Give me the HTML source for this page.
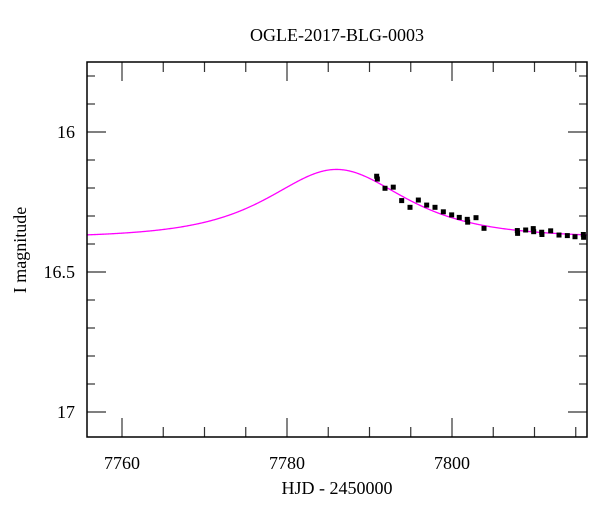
<!DOCTYPE html>
<html><head><meta charset="utf-8"><style>
body{margin:0;background:#fff}
svg text{font-family:"Liberation Serif",serif;fill:#000}
</style></head><body>
<svg id="chart" width="600" height="512" xmlns="http://www.w3.org/2000/svg">
<rect width="600" height="512" fill="#fff"/>
<text x="337" y="41" font-size="18" text-anchor="middle">OGLE-2017-BLG-0003</text>
<text x="337" y="494" font-size="18" text-anchor="middle">HJD - 2450000</text>
<text transform="translate(26,250) rotate(-90)" font-size="18" text-anchor="middle">I magnitude</text>
<g id="axes"></g>
<g id="marks"></g>
<rect x="87" y="62" width="500" height="375" fill="none" stroke="#000" stroke-width="1.5"/>
</svg>
<script>
const days=[7790.87,7790.95,7791.88,7792.88,7793.90,7794.91,7795.92,7796.93,7797.94,7798.95,7799.96,7800.88,7801.85,7801.9,7802.91,7803.88,7807.92,7807.95,7808.93,7809.85,7809.9,7810.87,7810.9,7811.96,7812.97,7813.98,7814.91,7815.92,7815.95];
const mags=[16.158,16.168,16.201,16.197,16.245,16.269,16.243,16.261,16.269,16.285,16.296,16.305,16.312,16.322,16.306,16.344,16.352,16.362,16.350,16.345,16.356,16.358,16.366,16.353,16.368,16.370,16.374,16.366,16.376];
const errs=[0.008,0.008,0.006,0.006,0.006,0.008,0.006,0.006,0.006,0.006,0.006,0.006,0.008,0.008,0.008,0.006,0.008,0.008,0.006,0.008,0.008,0.008,0.008,0.006,0.006,0.006,0.006,0.008,0.008];
const xTicks=[7760,7780,7800];
const yTicks=[16,16.5,17];
const model={t0:7786,u0:1.15,tE:9.1,base:16.378};
const X0=7760,XPX=122,XS=8.25,Y0=16,YPX=132,YS=280;
const L=87,R=587,T=62,B=437;
const sx=d=>XPX+(d-X0)*XS, sy=m=>YPX+(m-Y0)*YS;
const NS="http://www.w3.org/2000/svg";
function mk(tag,attrs,parent){const e=document.createElementNS(NS,tag);for(const k in attrs)e.setAttribute(k,attrs[k]);parent.appendChild(e);return e;}
const ax=document.getElementById('axes'),mg=document.getElementById('marks');
// x ticks
const dmin=X0+(L-XPX)/XS,dmax=X0+(R-XPX)/XS;
for(let d=Math.ceil(dmin/5)*5;d<=dmax;d+=5){
 const x=sx(d),major=d%20===0,len=major?19:10;
 const t1=mk('line',{x1:x,x2:x,y1:B,y2:B-len,stroke:'#333','stroke-width':1.2},ax);
 
 
 const t2=mk('line',{x1:x,x2:x,y1:T,y2:T+len,stroke:'#333','stroke-width':1.2},ax);
 
 
}
xTicks.forEach(d=>{const t=mk('text',{x:sx(d),y:469,'font-size':18,'text-anchor':'middle'},ax);t.textContent=d;
 
 });
// y ticks
for(let i=Math.ceil((Y0+(T-YPX)/YS)*10);i<=(Y0+(B-YPX)/YS)*10;i++){
 const m=i/10,y=sy(m),major=i%5===0,len=major?19:8;
 const t1=mk('line',{x1:L,x2:L+len,y1:y,y2:y,stroke:'#333','stroke-width':1.2},ax);
 
 
 const t2=mk('line',{x1:R,x2:R-len,y1:y,y2:y,stroke:'#333','stroke-width':1.2},ax);
 
 
}
yTicks.forEach(m=>{const t=mk('text',{x:75,y:sy(m)+6,'font-size':18,'text-anchor':'end'},ax);t.textContent=m;
 
 });
// model curve
let pts=[];
for(let d=dmin;d<=dmax;d+=0.1){
 const tau=(d-model.t0)/model.tE,u=Math.sqrt(model.u0*model.u0+tau*tau);
 const A=(u*u+2)/(u*Math.sqrt(u*u+4));
 pts.push(sx(d).toFixed(2)+','+sy(model.base-2.5*Math.log10(A)).toFixed(2));
}
const curve=mk('polyline',{points:pts.join(' '),fill:'none',stroke:'#ff00ff','stroke-width':1.3},mg);


// data
days.forEach((d,i)=>{
 const x=sx(d),y=sy(mags[i]);
 const e=mk('line',{x1:x,x2:x,y1:sy(mags[i]-errs[i]),y2:sy(mags[i]+errs[i]),stroke:'#000','stroke-width':1.2},mg);
 
 
 const p=mk('rect',{x:x-2.5,y:y-2.5,width:5,height:5,fill:'#000'},mg);
 
 
});
</script>
</body></html>
